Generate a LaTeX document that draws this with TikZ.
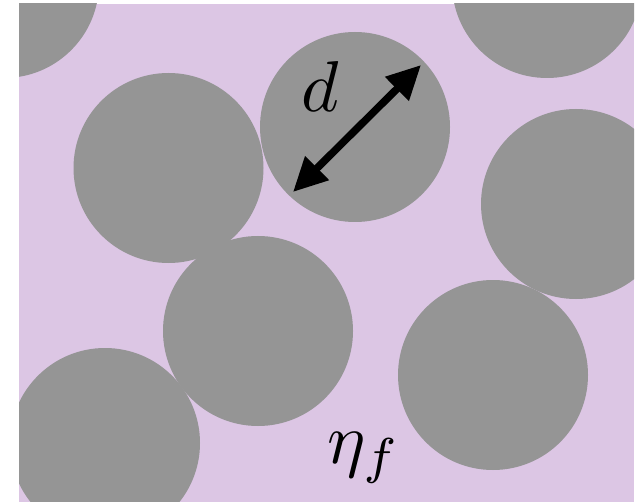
\documentclass[tikz,border=0pt]{standalone}
\usetikzlibrary{arrows.meta}
\definecolor{fluid}{RGB}{220,198,228}
\definecolor{grain}{RGB}{149,149,149}
\tikzset{
  particle/.style={fill=grain, draw=none},
  bigarrow/.style={line width=7.5pt, {Triangle[length=34pt,width=32pt]}-{Triangle[length=34pt,width=32pt]}},
  biglabel/.style={anchor=base, inner sep=0pt, scale=7.2}
}
\begin{document}
\begin{tikzpicture}[x=1pt,y=-1pt]
\useasboundingbox (0,0) rectangle (644,502);
\fill[white] (0,0) rectangle (644,502);
\fill[fluid] (19,4) rectangle (634,502);
\begin{scope}
\clip (19,4) rectangle (634,502);
\fill[particle] (4,-17) circle (95);
\fill[particle] (168.5,168) circle (95);
\fill[particle] (355,127) circle (95);
\fill[particle] (547,-17) circle (95);
\fill[particle] (576,204) circle (95);
\fill[particle] (258,331) circle (95);
\fill[particle] (105,443) circle (95);
\fill[particle] (493,375) circle (95);
\end{scope}
\coordinate (tipA) at (293,192);
\coordinate (tipB) at (421,65);
\draw[bigarrow] (tipA) -- (tipB);
\node[biglabel] (d) at (320,112) {$d$};
\node[biglabel] (eta) at (364,463) {$\eta_f$};
\end{tikzpicture}
\end{document}
